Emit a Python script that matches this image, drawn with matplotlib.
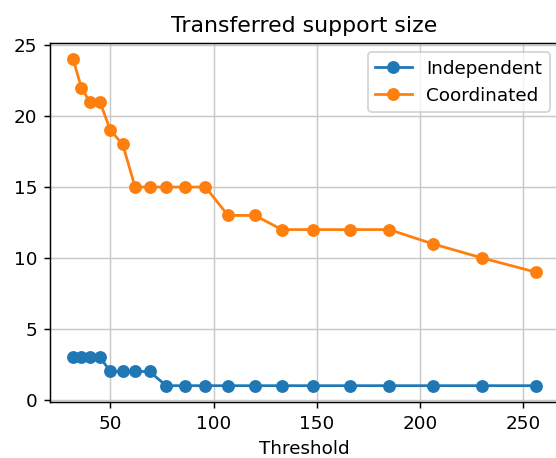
import numpy as np
import matplotlib
matplotlib.use('Agg')
import matplotlib.pyplot as plt

# thresholds
threshold = [32, 36, 40, 45, 50, 56, 62, 69, 77, 86, 96, 107, 120, 133, 148, 166, 185, 206, 230, 256]
independent = [3, 3, 3, 3, 2, 2, 2, 2, 1, 1, 1, 1, 1, 1, 1, 1, 1, 1, 1, 1]
coordinated = [24, 22, 21, 21, 19, 18, 15, 15, 15, 15, 15, 13, 13, 12, 12, 12, 12, 11, 10, 9]

dpi = 132
fig = plt.figure(figsize=(556 / dpi, 458 / dpi), dpi=dpi)
# axes runs a little past the right edge, as in the reference
ax = fig.add_axes([50 / 556, 56 / 458, 509 / 556, 359 / 458])

ax.plot(threshold, independent, marker='o', label='Independent')
ax.plot(threshold, coordinated, marker='o', label='Coordinated')
ax.set_title('Transferred support size')
ax.set_xlabel('Threshold')
ax.set_xticks([50, 100, 150, 200, 250])
ax.set_yticks([0, 5, 10, 15, 20, 25])
ax.grid(True, color='#c8c8c8')
ax.legend(loc='upper right')

fig.savefig('out.png', dpi=dpi)
